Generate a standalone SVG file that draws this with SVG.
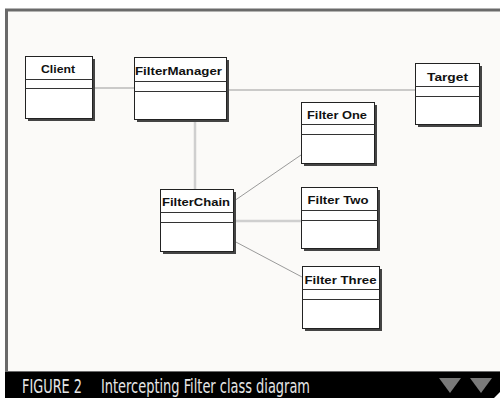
<svg xmlns="http://www.w3.org/2000/svg" width="500" height="398" viewBox="0 0 500 398">
<defs>
<style>
.box{fill:#fff;stroke:#222;stroke-width:1}
.sh{fill:#444}
.div{stroke:#333;stroke-width:1}
.lbl{font-family:"Liberation Sans",Arial,sans-serif;font-size:10.5px;font-weight:bold;fill:#111;text-anchor:middle}
.thin{stroke:#9a9a9a;stroke-width:1;fill:none}
.thick{stroke:#cfcfcf;stroke-width:2.5;fill:none}
.cap{font-family:"DejaVu Sans Condensed","Liberation Sans",Arial,sans-serif;font-size:19px;fill:#e6e6e6}
</style>
</defs>
<rect x="0" y="0" width="500" height="398" fill="#ffffff"/>
<rect x="6.5" y="10" width="494" height="362" fill="#fbfaf8"/>
<path d="M6.5 372 V10 H500" fill="none" stroke="#6a6a6a" stroke-width="3"/>
<rect x="5" y="371" width="495" height="1.5" fill="#6a6a6a"/>
<rect x="5" y="372" width="495" height="26" fill="#000"/>
<g id="caption">
<text class="cap" x="22" y="393" textLength="60" lengthAdjust="spacingAndGlyphs">FIGURE 2</text>
<text class="cap" x="101" y="393" textLength="209" lengthAdjust="spacingAndGlyphs">Intercepting Filter class diagram</text>
<polygon points="439,378 461,378 450,393" fill="#7a7a7a"/>
<polygon points="470,378 492,378 481,393" fill="#7a7a7a"/>
<polygon points="500,392 500,398 494,398" fill="#fff"/>
</g>
<g id="connectors">
<line class="thin" x1="93" y1="88" x2="134" y2="88"/>
<line class="thin" x1="226" y1="90" x2="415" y2="90"/>
<line class="thick" x1="195" y1="120" x2="195" y2="189"/>
<line class="thin" x1="234" y1="201" x2="301" y2="155"/>
<line class="thick" x1="234" y1="221" x2="301" y2="221"/>
<line class="thin" x1="234" y1="241" x2="302" y2="277"/>
</g>
<g id="client">
<rect class="sh" x="28" y="59" width="67" height="62"/>
<rect class="box" x="25.5" y="56.5" width="67" height="62"/>
<line class="div" x1="25.5" y1="79.5" x2="92.5" y2="79.5"/>
<line class="div" x1="25.5" y1="88.5" x2="92.5" y2="88.5"/>
<text class="lbl" x="58" y="73" textLength="34" lengthAdjust="spacingAndGlyphs">Client</text>
</g>
<g id="filtermanager">
<rect class="sh" x="137" y="60" width="92" height="62"/>
<rect class="box" x="134.5" y="57.5" width="92" height="62"/>
<line class="div" x1="134.5" y1="81.5" x2="226.5" y2="81.5"/>
<line class="div" x1="134.5" y1="91.5" x2="226.5" y2="91.5"/>
<text class="lbl" x="178.5" y="75" textLength="87" lengthAdjust="spacingAndGlyphs">FilterManager</text>
</g>
<g id="target">
<rect class="sh" x="418" y="66" width="64" height="61"/>
<rect class="box" x="415.5" y="63.5" width="64" height="61"/>
<line class="div" x1="415.5" y1="86.5" x2="479.5" y2="86.5"/>
<line class="div" x1="415.5" y1="96.5" x2="479.5" y2="96.5"/>
<text class="lbl" x="447.5" y="81" textLength="41" lengthAdjust="spacingAndGlyphs">Target</text>
</g>
<g id="filterone">
<rect class="sh" x="304" y="105" width="73" height="61"/>
<rect class="box" x="301.5" y="102.5" width="73" height="61"/>
<line class="div" x1="301.5" y1="124.5" x2="374.5" y2="124.5"/>
<line class="div" x1="301.5" y1="134.5" x2="374.5" y2="134.5"/>
<text class="lbl" x="337" y="119" textLength="60" lengthAdjust="spacingAndGlyphs">Filter One</text>
</g>
<g id="filterchain">
<rect class="sh" x="163" y="192" width="73" height="62"/>
<rect class="box" x="160.5" y="189.5" width="73" height="62"/>
<line class="div" x1="160.5" y1="212.5" x2="233.5" y2="212.5"/>
<line class="div" x1="160.5" y1="222.5" x2="233.5" y2="222.5"/>
<text class="lbl" x="196" y="206" textLength="68" lengthAdjust="spacingAndGlyphs">FilterChain</text>
</g>
<g id="filtertwo">
<rect class="sh" x="304" y="190" width="76" height="61"/>
<rect class="box" x="301.5" y="187.5" width="76" height="61"/>
<line class="div" x1="301.5" y1="210.5" x2="377.5" y2="210.5"/>
<line class="div" x1="301.5" y1="220.5" x2="377.5" y2="220.5"/>
<text class="lbl" x="338" y="204" textLength="61" lengthAdjust="spacingAndGlyphs">Filter Two</text>
</g>
<g id="filterthree">
<rect class="sh" x="305" y="269" width="77" height="62"/>
<rect class="box" x="302.5" y="266.5" width="77" height="62"/>
<line class="div" x1="302.5" y1="289.5" x2="379.5" y2="289.5"/>
<line class="div" x1="302.5" y1="299.5" x2="379.5" y2="299.5"/>
<text class="lbl" x="340.5" y="284" textLength="72" lengthAdjust="spacingAndGlyphs">Filter Three</text>
</g>
</svg>
